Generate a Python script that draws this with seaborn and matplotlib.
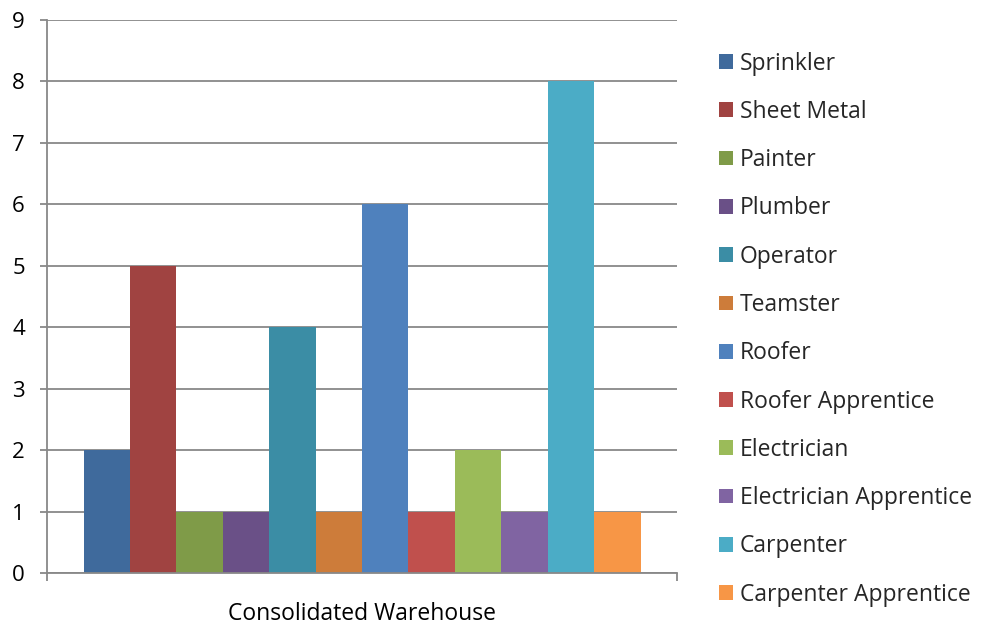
import matplotlib
matplotlib.use("Agg")
import matplotlib.pyplot as plt
import seaborn as sns
import pandas as pd

trades = ["Sprinkler", "Sheet Metal", "Painter", "Plumber", "Operator", "Teamster",
          "Roofer", "Roofer Apprentice", "Electrician", "Electrician Apprentice",
          "Carpenter", "Carpenter Apprentice"]
counts = [2, 5, 1, 1, 4, 1, 6, 1, 2, 1, 8, 1]
category = ["Consolidated Warehouse"]
colors = ["#3F6A9C", "#A04341", "#7F9B48", "#6A5087", "#3B8DA5", "#CD7C3A",
          "#4F81BD", "#C0504D", "#9BBB59", "#8064A2", "#4BACC6", "#F79646"]
yticks = list(range(0, 10))

df = pd.DataFrame({"site": category * len(trades), "trade": trades, "count": counts})

sns.set_theme(style="white")
plt.rcParams["font.family"] = ["Open Sans", "DejaVu Sans"]
FS = 16.5

fig = plt.figure(figsize=(9.82, 6.29), dpi=100)
ax = fig.add_axes([47/982, 1 - 573/629, 630/982, 553/629])

sns.barplot(data=df, x="site", y="count", hue="trade", hue_order=trades,
            palette=colors, width=557/630, saturation=1, ax=ax, legend=True,
            linewidth=0, edgecolor="none")

ax.set_xlim(-0.5, 0.5)
ax.set_ylim(0, 9)
ax.set_yticks(yticks)
ax.set_yticklabels([str(t) for t in yticks], fontsize=16)
grid_c = "#888888"
ax.yaxis.grid(True, color=grid_c, linewidth=1.3)
ax.set_axisbelow(True)
for s in ["top", "right"]:
    ax.spines[s].set_visible(False)
for s in ["left", "bottom"]:
    ax.spines[s].set_color(grid_c)
    ax.spines[s].set_linewidth(1.3)
ax.tick_params(axis="y", which="major", direction="out", length=5, width=1.3,
               color=grid_c, pad=11, left=True, labelcolor="black")
ax.set_xticks([-0.5, 0.5])
ax.set_xticklabels(["", ""])
ax.tick_params(axis="x", direction="out", length=6, width=1.3, color=grid_c, bottom=True)
ax.set_xlabel("")
ax.set_ylabel("")
fig.text(362/982, 1 - 614/629, category[0], ha="center", va="center", fontsize=FS, color="black")

handles, labels = ax.get_legend_handles_labels()
ax.get_legend().remove()
fig.legend(handles, labels, loc="upper left", bbox_to_anchor=(719/982, 1 - 51.5/629),
           frameon=False, fontsize=FS, handlelength=0.61, handleheight=0.61,
           handletextpad=0.3, labelspacing=1.06, borderaxespad=0, borderpad=0)

fig.savefig("out.png", dpi=100)
